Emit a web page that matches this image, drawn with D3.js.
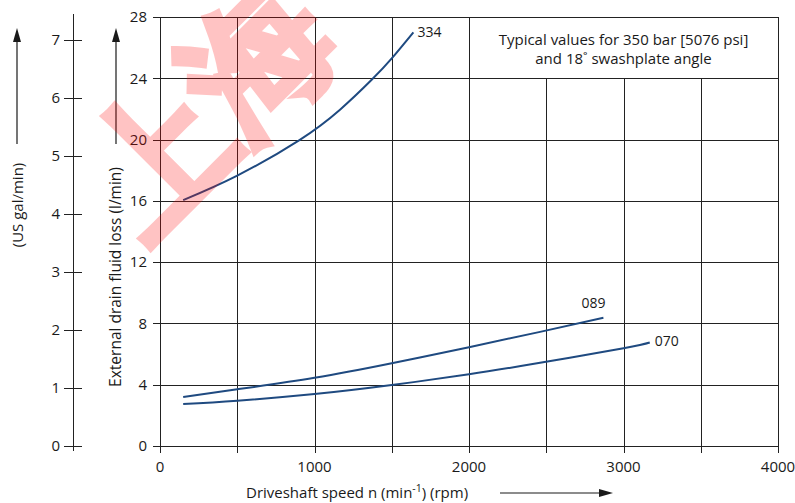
<!DOCTYPE html>
<html>
<head>
<meta charset="utf-8">
<script src="https://cdn.jsdelivr.net/npm/d3@7"></script>
<style>
  html, body { margin: 0; padding: 0; background: #fff; }
  svg { display: block; }
  text { font-family: "Open Sans", "Noto Sans", sans-serif; fill: #1a1a1a; }
</style>
</head>
<body>
<svg id="chart" width="795" height="503"></svg>
<script>
// Drain fluid loss vs driveshaft speed (350 bar, 18° swashplate)
const rpmTicks = [0, 1000, 2000, 3000, 4000];
const gridRpm = [0, 500, 1000, 1500, 2000, 2500, 3000, 3500, 4000];
const flowTicks = [0, 4, 8, 12, 16, 20, 24, 28];
const galTicks = [0, 1, 2, 3, 4, 5, 6, 7];
const LITRES_PER_GAL = 3.785;

const sizes = ["334", "089", "070"];
const rpm334  = [150, 500, 900, 1165, 1370, 1500, 1640];
const flow334 = [16.05, 17.65, 19.95, 21.95, 23.9, 25.3, 27.0];
const rpm089  = [150, 500, 1000, 1500, 2000, 2460, 2870];
const flow089 = [3.2, 3.7, 4.45, 5.4, 6.45, 7.45, 8.37];
const rpm070  = [150, 500, 1000, 1500, 2000, 2460, 3000, 3170];
const flow070 = [2.74, 2.96, 3.39, 3.98, 4.68, 5.43, 6.38, 6.75];

const noteLines = ["Typical values for 350 bar [5076 psi]", "and 18˚ swashplate angle"];

const svg = d3.select("#chart");
const x = d3.scaleLinear().domain([0, 4000]).range([160, 778]);
const y = d3.scaleLinear().domain([0, 28]).range([446, 17]);
const yGal = d3.scaleLinear().domain([0, 28 / LITRES_PER_GAL]).range([446, 17]);

const gridColor = "#222";
const curveColor = "#1f4a80";

// horizontal grid lines with short ticks to the left
const grid = svg.append("g").attr("stroke", gridColor).attr("stroke-width", 1);
flowTicks.forEach(v => {
  grid.append("line")
    .attr("x1", x(0) - 7).attr("x2", x(4000))
    .attr("y1", Math.round(y(v)) + 0.5).attr("y2", Math.round(y(v)) + 0.5);
});
// vertical grid lines; the note panel in the upper right stays clear
gridRpm.forEach(v => {
  const inPanel = v > 2000 && v < 4000;
  grid.append("line")
    .attr("x1", Math.round(x(v)) + 0.5).attr("x2", Math.round(x(v)) + 0.5)
    .attr("y1", inPanel ? y(24) : y(28)).attr("y2", y(0) + 7);
});

// note panel text
const noteX = (x(2000) + x(4000)) / 2;
svg.append("g").selectAll("text").data(noteLines).join("text")
  .attr("x", noteX).attr("y", (d, i) => 45 + i * 19)
  .attr("text-anchor", "middle").attr("font-size", 15)
  .text(d => d);

// left axis tick labels (l/min)
svg.append("g").selectAll("text").data(flowTicks).join("text")
  .attr("x", 147).attr("y", d => y(d))
  .attr("dy", "0.35em").attr("text-anchor", "end").attr("font-size", 15)
  .text(d => d);

// bottom axis tick labels (rpm)
svg.append("g").selectAll("text").data(rpmTicks).join("text")
  .attr("x", d => x(d)).attr("y", 467)
  .attr("dy", "0.35em").attr("text-anchor", "middle").attr("font-size", 15)
  .text(d => d);

// secondary US gal/min axis
const galAxisX = 73;
const gal = svg.append("g");
gal.append("line").attr("x1", galAxisX + 0.5).attr("x2", galAxisX + 0.5)
  .attr("y1", 14).attr("y2", 451).attr("stroke", gridColor);
gal.selectAll("line.t").data(galTicks).join("line").attr("class", "t")
  .attr("x1", 64).attr("x2", 82)
  .attr("y1", d => Math.round(yGal(d)) + 0.5).attr("y2", d => Math.round(yGal(d)) + 0.5)
  .attr("stroke", gridColor);
gal.selectAll("text").data(galTicks).join("text")
  .attr("x", 60).attr("y", d => yGal(d))
  .attr("dy", "0.35em").attr("text-anchor", "end").attr("font-size", 15)
  .text(d => d);

// axis titles
svg.append("text")
  .attr("transform", "translate(18,205) rotate(-90)")
  .attr("text-anchor", "middle").attr("dy", "0.35em").attr("font-size", 15)
  .text("(US gal/min)");
svg.append("text")
  .attr("transform", "translate(116,277) rotate(-90)")
  .attr("text-anchor", "middle").attr("dy", "0.35em").attr("font-size", 15.5)
  .text("External drain fluid loss (l/min)");

const xt = svg.append("text").attr("x", 246).attr("y", 498).attr("font-size", 15);
xt.append("tspan").text("Driveshaft speed n (min");
xt.append("tspan").attr("dy", -6).attr("font-size", 10.5).text("-1");
xt.append("tspan").attr("dy", 6).text(") (rpm)");

// direction arrows
function arrow(x1, y1, x2, y2) {
  const g = svg.append("g");
  const ang = Math.atan2(y2 - y1, x2 - x1);
  const len = 14, half = 4;
  const bx = x2 - len * Math.cos(ang), by = y2 - len * Math.sin(ang);
  g.append("line").attr("x1", x1).attr("y1", y1).attr("x2", bx).attr("y2", by)
    .attr("stroke", "#1a1a1a").attr("stroke-width", 1.2);
  g.append("path")
    .attr("d", `M${x2},${y2} L${bx - half * Math.sin(ang)},${by + half * Math.cos(ang)} L${bx + half * Math.sin(ang)},${by - half * Math.cos(ang)} Z`)
    .attr("fill", "#1a1a1a");
}
arrow(17, 144, 17, 28);
arrow(116, 144, 116, 28);
arrow(500, 493, 613, 493);

// curves (smooth natural splines through the readings)
const line = d3.line().x(d => x(d[0])).y(d => y(d[1])).curve(d3.curveNatural);
const series = [
  { name: sizes[0], rpm: rpm334, flow: flow334, dx: 4, dy: 0 },
  { name: sizes[1], rpm: rpm089, flow: flow089, dx: -22, dy: -15 },
  { name: sizes[2], rpm: rpm070, flow: flow070, dx: 5, dy: -1 }
];
series.forEach(s => {
  const pts = s.rpm.map((r, i) => [r, s.flow[i]]);
  svg.append("path").datum(pts).attr("d", line)
    .attr("fill", "none").attr("stroke", curveColor).attr("stroke-width", 2);
  const last = pts[pts.length - 1];
  svg.append("text")
    .attr("x", x(last[0]) + s.dx).attr("y", y(last[1]) + s.dy)
    .attr("dy", "0.35em").attr("font-size", 14)
    .text(s.name);
});

// watermark
svg.append("text")
  .attr("transform", "translate(144,242) rotate(-45)")
  .attr("font-family", "'Noto Sans CJK SC', sans-serif")
  .attr("font-weight", "bold").attr("font-size", 140)
  .attr("opacity", 0.23)
  .style("fill", "#ff0000").style("stroke", "#ff0000")
  .attr("stroke-width", 6).attr("stroke-linejoin", "miter")
  .text("上海");
</script>
</body>
</html>
